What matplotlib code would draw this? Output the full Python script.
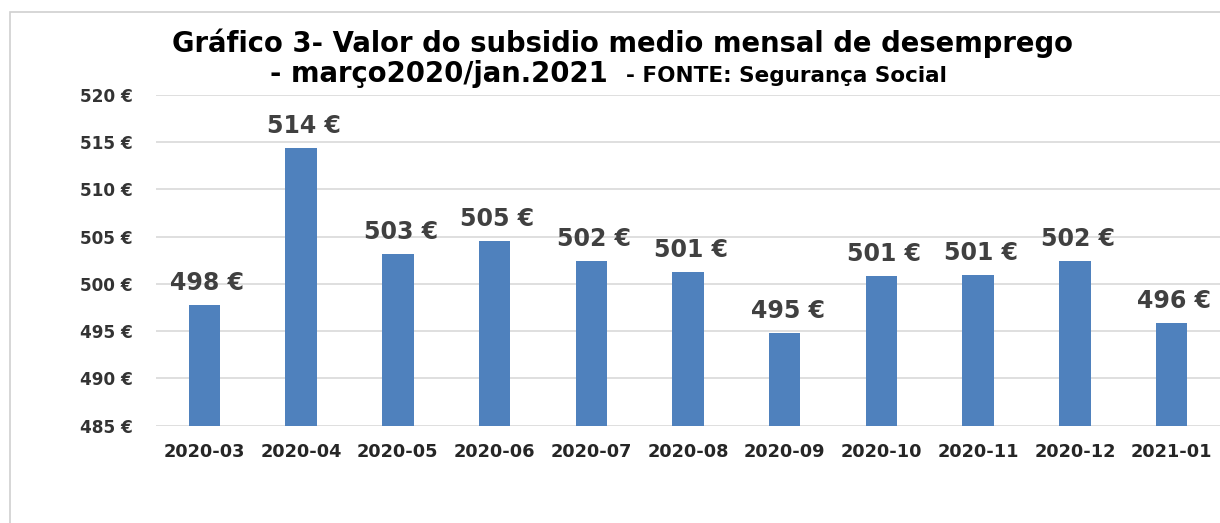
import matplotlib
matplotlib.use("Agg")
import matplotlib.pyplot as plt
from matplotlib.patches import Rectangle

# monthly average unemployment benefit (EUR)
months = ["2020-03", "2020-04", "2020-05", "2020-06", "2020-07", "2020-08",
          "2020-09", "2020-10", "2020-11", "2020-12", "2021-01"]
values = [497.8, 514.4, 503.2, 504.6, 502.4, 501.3, 494.8, 500.8, 501.0, 502.4, 495.9]
y_ticks = [485, 490, 495, 500, 505, 510, 515, 520]

title_1 = "Gráfico 3- Valor do subsidio medio mensal de desemprego"
title_2a = "- março2020/jan.2021"
title_2b = "- FONTE: Segurança Social"

W, H = 1220, 523
bar_color = "#4F81BD"
grid_color = "#d9d9d9"
label_color = "#404040"

plt.rcParams["font.family"] = ["DejaVu Sans"]
fig = plt.figure(figsize=(W / 100, H / 100), dpi=100)
fig.patch.set_facecolor("white")

ax = fig.add_axes([156 / W, 1 - 425.7 / H, (W - 156) / W, (425.7 - 95) / H])
x = list(range(len(months)))
ax.bar(x, values, width=0.325, color=bar_color, zorder=3)
ax.set_xlim(-0.5, len(months) - 0.5)
ax.set_ylim(y_ticks[0], y_ticks[-1])

ax.set_yticks(y_ticks)
ax.set_yticklabels([f"{t} €" for t in y_ticks], fontsize=12.2, fontweight="bold", color="#333333")
ax.set_xticks(x)
ax.set_xticklabels(months, fontsize=12.8, fontweight="bold", color="#262626")
ax.tick_params(axis="y", length=0, pad=17)
ax.tick_params(axis="x", length=0, pad=12.5)
ax.grid(axis="y", color=grid_color, linewidth=1.2, zorder=0)
for s in ax.spines.values():
    s.set_visible(False)
ax.set_facecolor("white")

for i, v in enumerate(values):
    ax.annotate(f"{v:.0f} €", (i, v), xytext=(2, 10.8), textcoords="offset points",
                ha="center", va="baseline", fontsize=17, fontweight="bold",
                color=label_color, zorder=4)

# titles
fig.text(622 / W, 1 - 52 / H, title_1, ha="center", va="baseline",
         fontsize=19.8, fontweight="bold", color="black")
fig.text(608 / W, 1 - 82 / H, title_2a, ha="right", va="baseline",
         fontsize=19.8, fontweight="bold", color="black")
fig.text(626 / W, 1 - 82 / H, title_2b, ha="left", va="baseline",
         fontsize=15.5, fontweight="bold", color="black")

# outer chart border
fig.add_artist(Rectangle((10 / W, -0.2), 1.2, 1.2 - 12 / H, transform=fig.transFigure,
                         facecolor="none", edgecolor="#d0d0d0", linewidth=1.2, zorder=0))

fig.savefig("out.png", dpi=100, facecolor="white")
